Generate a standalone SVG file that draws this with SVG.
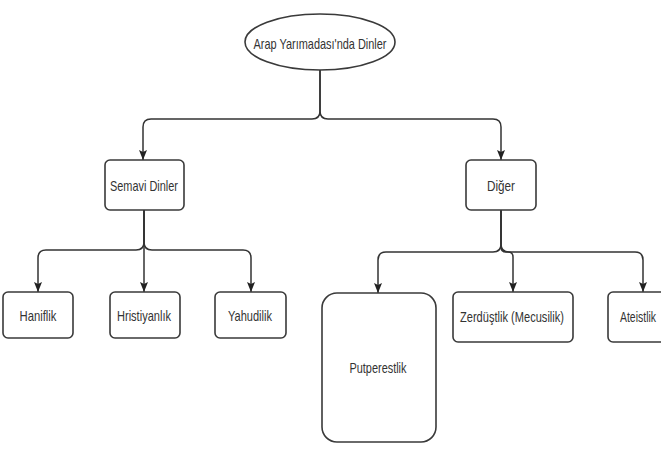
<svg xmlns="http://www.w3.org/2000/svg" width="661" height="454" viewBox="0 0 661 454">
<defs>
<style>
.box{fill:#fff;stroke:#3a3a3a;stroke-width:1.6}
.lbl{font-family:"Liberation Sans Narrow","Liberation Sans",Arial,sans-serif;font-size:15px;fill:#333;text-anchor:middle;dominant-baseline:central}
.edge{fill:none;stroke:#333;stroke-width:1.5}
</style>
<marker id="arr" markerUnits="userSpaceOnUse" markerWidth="12" markerHeight="10" refX="10" refY="4" orient="auto">
<path d="M0,0 L10,4 L0,8 L2,4 z" fill="#222"/>
</marker>
</defs>
<rect width="661" height="454" fill="#fff"/>
<g id="connectors">
<path class="edge" marker-end="url(#arr)" d="M320,70 V111 Q320,119 312,119 H151 Q143,119 143,127 V160"/>
<path class="edge" marker-end="url(#arr)" d="M320,70 V111 Q320,119 328,119 H493 Q501,119 501,127 V160"/>
<path class="edge" marker-end="url(#arr)" d="M144,210 V242 Q144,250 136,250 H46 Q38,250 38,258 V292"/>
<path class="edge" marker-end="url(#arr)" d="M144,210 V292"/>
<path class="edge" marker-end="url(#arr)" d="M144,210 V242 Q144,250 152,250 H243 Q251,250 251,258 V292"/>
<path class="edge" marker-end="url(#arr)" d="M501,210 V244 Q501,252 493,252 H386 Q378,252 378,260 V293"/>
<path class="edge" marker-end="url(#arr)" d="M501,210 V247 Q501,252 506,252 H508 Q513,252 513,257 V292"/>
<path class="edge" marker-end="url(#arr)" d="M501,210 V244 Q501,252 509,252 H635 Q643,252 643,260 V292"/>
</g>
<g id="root">
<ellipse class="box" cx="320" cy="42" rx="75" ry="28"/>
<text class="lbl" x="320" y="43" textLength="133" lengthAdjust="spacingAndGlyphs">Arap Yarımadası'nda Dinler</text>
</g>
<g id="semavi">
<rect class="box" x="105" y="160" width="79" height="50" rx="5"/>
<text class="lbl" x="144" y="185" textLength="68" lengthAdjust="spacingAndGlyphs">Semavi Dinler</text>
</g>
<g id="diger">
<rect class="box" x="466" y="160" width="70" height="50" rx="5"/>
<text class="lbl" x="501" y="185" textLength="28" lengthAdjust="spacingAndGlyphs">Diğer</text>
</g>
<g id="haniflik">
<rect class="box" x="3" y="292" width="70" height="46" rx="5"/>
<text class="lbl" x="38" y="315" textLength="37" lengthAdjust="spacingAndGlyphs">Haniflik</text>
</g>
<g id="hristiyanlik">
<rect class="box" x="110" y="292" width="70" height="46" rx="5"/>
<text class="lbl" x="144" y="315" textLength="54" lengthAdjust="spacingAndGlyphs">Hristiyanlık</text>
</g>
<g id="yahudilik">
<rect class="box" x="215" y="292" width="71" height="46" rx="5"/>
<text class="lbl" x="250" y="315" textLength="44" lengthAdjust="spacingAndGlyphs">Yahudilik</text>
</g>
<g id="putperestlik">
<rect class="box" x="322" y="293" width="114" height="149" rx="15"/>
<text class="lbl" x="378" y="367" textLength="57" lengthAdjust="spacingAndGlyphs">Putperestlik</text>
</g>
<g id="zerdustlik">
<rect class="box" x="453" y="292" width="120" height="50" rx="5"/>
<text class="lbl" x="512" y="316" textLength="104" lengthAdjust="spacingAndGlyphs">Zerdüştlik (Mecusilik)</text>
</g>
<g id="ateistlik">
<rect class="box" x="608" y="292" width="70" height="50" rx="5"/>
<text class="lbl" x="638" y="316" textLength="36" lengthAdjust="spacingAndGlyphs">Ateistlik</text>
</g>
</svg>
